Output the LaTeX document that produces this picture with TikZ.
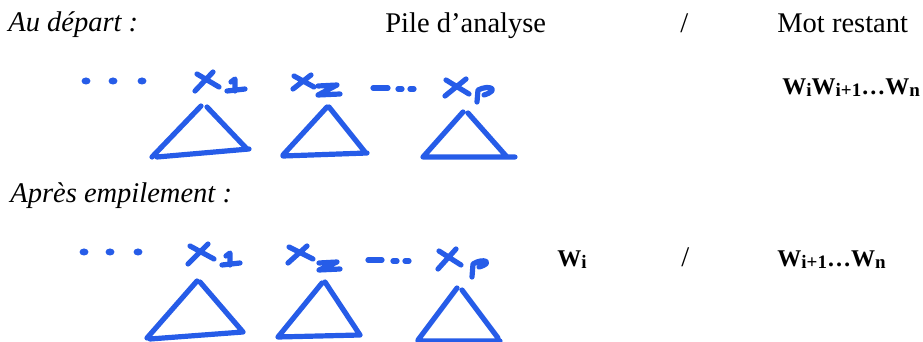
\documentclass[tikz,border=0pt]{standalone}
\usepackage{fontspec}
\setmainfont{Liberation Serif}
\usepackage{xcolor}
\definecolor{penblue}{RGB}{38,92,232}
\newcommand\wsub[1]{\raisebox{-1pt}{\fontsize{9.5}{11}\selectfont #1}}

\begin{document}
\begin{tikzpicture}[
        x=0.5pt, y=-0.5pt,
        txt/.style={anchor=base west, inner sep=0pt, font=\fontsize{14.25}{17}\selectfont},
        itxt/.style={txt, font=\fontsize{14.25}{17}\selectfont\itshape},
        word/.style={anchor=base west, inner sep=0pt, font=\fontsize{12}{14}\selectfont\bfseries},
        sketch/.style={draw=penblue, line width=2.6pt, line cap=round, line join=round},
        blob/.style={fill=penblue}
    ]
        \useasboundingbox (0,0) rectangle (923,342);

        % Headings
        \node[itxt] (start) at (8,32) {Au départ :};
        \node[txt] (pile) at (385,33) {Pile d’analyse};
        \node[txt] (sep) at (680,33) {/};
        \node[txt] (mot) at (777,33) {Mot restant};
        \node[itxt] (after) at (10,203) {Après empilement :};

        % Remaining words
        \node[word] (rest1) at (782,95) {W\wsub{i}W\wsub{i+1}…W\wsub{n}};
        \node[word] (top2) at (557,267) {W\wsub{i}};
        \node[txt] (sep2) at (681,267) {/};
        \node[word] (rest2) at (777,267) {W\wsub{i+1}…W\wsub{n}};

        % Stack before shifting
        \foreach \x in {86,113,142} \fill[blob] (\x,81) ellipse (4.5 and 3.5);
        \draw[sketch] (195,91) -- (213,72) (197,74) -- (219,87);
        \draw[sketch] (231,82) -- (235,79) -- (235,91) (227,91) -- (245,89);
        \draw[sketch] (152,157) -- (201,106) (207,107) -- (247,149) (157,157) -- (249,149);
        \draw[sketch] (293,89) -- (311,75) (294,76) -- (314,87);
        \draw[sketch] (318,86) -- (337,85) -- (318,95) -- (340,94);
        \draw[sketch] (283,155) -- (327,107) (329,107) -- (365,152) (283,156) -- (367,153);
        \draw[sketch] (373,88) -- (388,88) (398,89) -- (402,89) (410,89) -- (414,89);
        \draw[sketch] (445,96) -- (466,79) (446,80) -- (469,94);
        \draw[sketch] (477,102) -- (478,90) .. controls (490,84) and (500,90) .. (484,95);
        \draw[sketch] (423,157) -- (463,112) (468,113) -- (507,157) (423,157) -- (515,157);

        % Stack after shifting
        \foreach \x in {84,110,138} \fill[blob] (\x,252) ellipse (4.5 and 3.5);
        \draw[sketch] (188,264) -- (208,244) (190,246) -- (214,259);
        \draw[sketch] (226,256) -- (230,253) -- (230,265) (222,265) -- (240,263);
        \draw[sketch] (147,338) -- (197,281) (200,282) -- (243,332) (150,339) -- (243,332);
        \draw[sketch] (288,263) -- (307,246) (289,247) -- (313,259);
        \draw[sketch] (319,263) -- (337,262) -- (319,270) -- (340,269);
        \draw[sketch] (278,337) -- (322,283) (325,282) -- (360,335) (278,337) -- (360,335);
        \draw[sketch] (368,260) -- (382,260) (393,261) -- (397,261) (405,261) -- (409,261);
        \draw[sketch] (438,269) -- (456,249) (439,251) -- (461,265);
        \draw[sketch] (472,277) -- (473,264) .. controls (484,257) and (494,263) .. (479,267);
        \draw[sketch] (418,340) -- (457,288) (462,290) -- (498,338) (418,341) -- (500,341);
\end{tikzpicture}
\end{document}
